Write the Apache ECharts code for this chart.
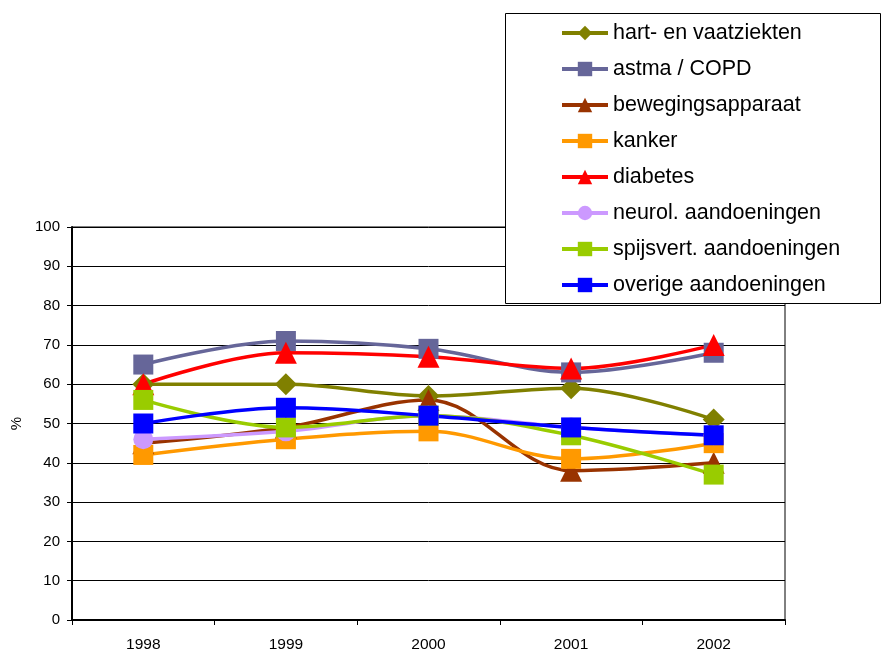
<!DOCTYPE html>
<html>
<head>
<meta charset="utf-8">
<script src="https://cdn.jsdelivr.net/npm/echarts@6/dist/echarts.min.js"></script>
<style>
  html, body { margin: 0; padding: 0; background: #fff; }
  #chart { width: 882px; height: 650px; }
</style>
</head>
<body>
<div id="chart"></div>
<script>
// Years on the category axis
var years = ['1998', '1999', '2000', '2001', '2002'];

// Percentages per condition group
var hartVaat = [60, 60, 57, 59, 51];
var astmaCopd = [65, 71, 69, 63, 68];
var beweging = [45, 49, 56, 38, 40];
var kanker = [42, 46, 48, 41, 45];
var diabetes = [60, 68, 67, 64, 70];
var neurol = [46, 48, 52, 49, 47];
var spijsvert = [56, 49, 52, 47, 37];
var overige = [50, 54, 52, 49, 47];

// Y-axis ticks
var yMin = 0, yMax = 100, yStep = 10;

var FONT = 'Liberation Sans, Arial, sans-serif';

function line(name, data, color, symbol, size) {
  return {
    name: name,
    type: 'line',
    data: data,
    smooth: 0.35,
    symbol: symbol,
    symbolSize: size,
    lineStyle: { color: color, width: 3.5 },
    itemStyle: { color: color, borderWidth: 0 },
    emphasis: { disabled: true },
    animation: false
  };
}

var chart = echarts.init(document.getElementById('chart'), null, { renderer: 'canvas' });

chart.setOption({
  backgroundColor: '#ffffff',
  animation: false,
  grid: {
    left: 72, right: 97, top: 227, bottom: 30,
    outerBoundsMode: 'none',
    containLabel: false,
    show: true,
    borderColor: '#000',
    borderWidth: 1,
    backgroundColor: 'transparent'
  },
  graphic: [{
    type: 'rect',
    z: 3,
    shape: { x: 505.5, y: 13.5, width: 375, height: 290 },
    style: { fill: '#ffffff', stroke: '#000000', lineWidth: 1 }
  }],
  legend: {
    orient: 'vertical',
    left: 560,
    top: 22,
    z: 5,
    itemWidth: 46,
    itemHeight: 18,
    itemGap: 14,
    padding: 0,
    selectedMode: false,
    lineStyle: { width: 4 },
    textStyle: { fontFamily: FONT, fontSize: 21.5, color: '#000', lineHeight: 22, padding: [0, 0, 0, 0] },
    data: ['hart- en vaatziekten', 'astma / COPD', 'bewegingsapparaat', 'kanker', 'diabetes',
           'neurol. aandoeningen', 'spijsvert. aandoeningen', 'overige aandoeningen']
  },
  xAxis: {
    type: 'category',
    data: years,
    boundaryGap: true,
    axisLine: { lineStyle: { color: '#000', width: 2 } },
    axisTick: { show: true, length: 5, inside: false, interval: 0, lineStyle: { color: '#000' } },
    axisLabel: { fontFamily: FONT, fontSize: 15.5, color: '#000', margin: 17 },
    splitLine: { show: false }
  },
  yAxis: {
    type: 'value',
    min: yMin, max: yMax, interval: yStep,
    name: '%',
    nameLocation: 'middle',
    nameRotate: 90,
    nameGap: 48,
    nameTextStyle: { fontFamily: FONT, fontSize: 15, color: '#000' },
    axisLine: { show: true, lineStyle: { color: '#000', width: 2 } },
    axisTick: { show: true, length: 5, inside: false, lineStyle: { color: '#000' } },
    axisLabel: { fontFamily: FONT, fontSize: 15, color: '#000', margin: 12 },
    splitLine: { show: true, lineStyle: { color: '#000', width: 1 } }
  },
  series: [
    line('hart- en vaatziekten', hartVaat, '#808000', 'diamond', 22),
    line('astma / COPD', astmaCopd, '#666699', 'rect', 20),
    line('bewegingsapparaat', beweging, '#993300', 'triangle', 22),
    line('kanker', kanker, '#FF9900', 'rect', 20),
    line('diabetes', diabetes, '#FF0000', 'triangle', 22),
    line('neurol. aandoeningen', neurol, '#CC99FF', 'circle', 20),
    line('spijsvert. aandoeningen', spijsvert, '#99CC00', 'rect', 20),
    line('overige aandoeningen', overige, '#0000FF', 'rect', 20)
  ]
});
</script>
</body>
</html>
